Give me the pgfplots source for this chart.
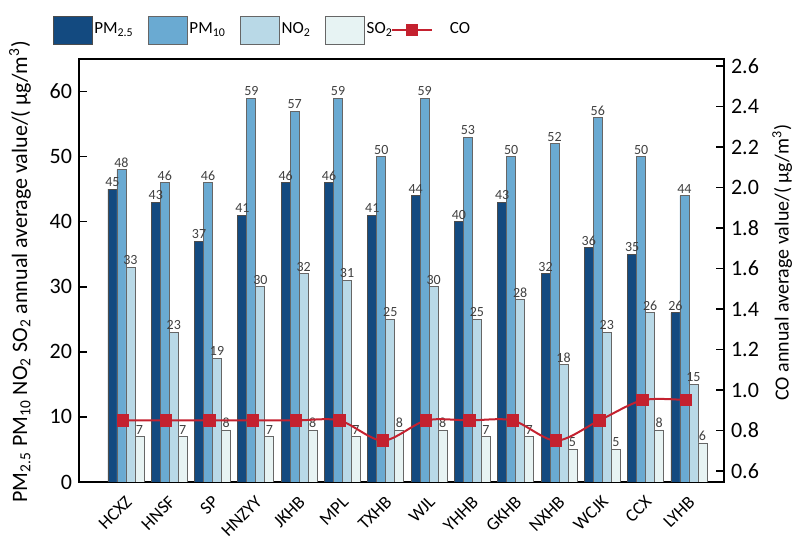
\documentclass[border=0pt]{standalone}
\usepackage{pgfplots}
\pgfplotsset{compat=1.18}
\usepackage{fontspec}
\setmainfont{Carlito}
\definecolor{pmtf}{HTML}{134A80}
\definecolor{pmten}{HTML}{6AAAD2}
\definecolor{notwo}{HTML}{B9D9E7}
\definecolor{sotwo}{HTML}{E7F3F3}
\definecolor{cored}{HTML}{C4212F}
\pgfplotsset{
  barleg/.style={legend image code/.code={\draw[##1] (0pt,-7pt) rectangle (19.5pt,7pt);}},
  coleg/.style={legend image code/.code={\draw[##1] plot coordinates {(0pt,0pt) (10pt,0pt) (20pt,0pt)};}},
}
\begin{document}
\begin{tikzpicture}
\begin{axis}[
  scale only axis, width=322.5pt, height=211.5pt,
  xmin=-1.085, xmax=13.81, ymin=0, ymax=65,
  ybar=0pt, bar width=4.5pt,
  ytick={0,10,20,30,40,50,60}, ytick pos=left, xtick pos=bottom,
  xtick={0,...,13},
  xticklabels={HCXZ,HNSF,SP,HNZYY,JKHB,MPL,TXHB,WJL,YHHB,GKHB,NXHB,WCJK,CCX,LYHB},
  xticklabel style={xshift=2.25pt, yshift=-7.75pt, rotate=45, anchor=east, font=\fontsize{9}{10}\selectfont, inner sep=1pt},
  tick align=inside, major tick length=4pt,
  axis line style={line width=1pt},
  every tick/.style={black, line width=0.8pt},
  yticklabel style={font=\fontsize{11}{12}\selectfont},
  /pgf/number format/assume math mode=true,
  ylabel={PM\textsubscript{2.5} PM\textsubscript{10} NO\textsubscript{2} SO\textsubscript{2} annual average value/( μg/m\textsuperscript{3})},
  ylabel style={at={(axis description cs:-0.0915,0.497)}, anchor=center, font=\fontsize{11}{12}\selectfont},
  nodes near coords, nodes near coords style={font=\fontsize{7}{7}\selectfont, text=black!75, inner sep=1pt},
  legend columns=5,
  legend style={draw=none, at={(-0.051,1.0686)}, anchor=west, font=\fontsize{8.5}{10}\selectfont,
    nodes={inner sep=1pt},
    /tikz/every odd column/.append style={column sep=0pt},
    /tikz/every even column/.append style={column sep=6pt}},
  legend cell align=left,
]
\addplot[fill=pmtf, draw=black!70, line width=0.4pt, barleg]
  coordinates {(0,45) (1,43) (2,37) (3,41) (4,46) (5,46) (6,41) (7,44) (8,40) (9,43) (10,32) (11,36) (12,35) (13,26)};
\addlegendentry{PM\textsubscript{2.5}}
\addplot[fill=pmten, draw=black!60, line width=0.4pt, barleg]
  coordinates {(0,48) (1,46) (2,46) (3,59) (4,57) (5,59) (6,50) (7,59) (8,53) (9,50) (10,52) (11,56) (12,50) (13,44)};
\addlegendentry{PM\textsubscript{10}}
\addplot[fill=notwo, draw=black!60, line width=0.4pt, barleg]
  coordinates {(0,33) (1,23) (2,19) (3,30) (4,32) (5,31) (6,25) (7,30) (8,25) (9,28) (10,18) (11,23) (12,26) (13,15)};
\addlegendentry{NO\textsubscript{2}}
\addplot[fill=sotwo, draw=black!60, line width=0.4pt, barleg]
  coordinates {(0,7) (1,7) (2,8) (3,7) (4,8) (5,7) (6,8) (7,8) (8,7) (9,7) (10,5) (11,5) (12,8) (13,6)};
\addlegendentry{SO\textsubscript{2}\kern-8pt}
\addlegendimage{sharp plot, cored, line width=1pt, mark=square*, mark size=2.6pt, coleg, mark repeat=2, mark phase=2}
\addlegendentry{\hspace{7.5pt}CO}
\end{axis}
\begin{axis}[
  scale only axis, width=322.5pt, height=211.5pt,
  xmin=-1.085, xmax=13.81, ymin=0.546, ymax=2.635,
  axis x line=none, axis y line*=right, ytick pos=right,
  tick align=inside, major tick length=4pt,
  axis line style={line width=1pt},
  every tick/.style={black, line width=0.8pt},
  ytick={0.6,0.8,1.0,1.2,1.4,1.6,1.8,2.0,2.2,2.4,2.6},
  /pgf/number format/assume math mode=true,
  yticklabel style={/pgf/number format/.cd, fixed, fixed zerofill, precision=1, /tikz/.cd, font=\fontsize{11}{12}\selectfont},
  ylabel={CO annual average value/( μg/m\textsuperscript{3})},
  ylabel style={at={(axis description cs:1.09,0.519)}, anchor=center, font=\fontsize{10}{11}\selectfont},
]
\addplot[cored, line width=1pt, smooth, mark=square*, mark size=2.6pt, xshift=-1.5pt]
  coordinates {(0,0.85) (1,0.85) (2,0.85) (3,0.85) (4,0.85) (5,0.85) (6,0.75) (7,0.85) (8,0.85) (9,0.85) (10,0.75) (11,0.85) (12,0.95) (13,0.95)};
\end{axis}
\pgfresetboundingbox
\path ([shift={(-39.5pt,-27.5pt)}]current axis.south west) rectangle ([shift={(36.5pt,29.5pt)}]current axis.north east);
\end{tikzpicture}
\end{document}
